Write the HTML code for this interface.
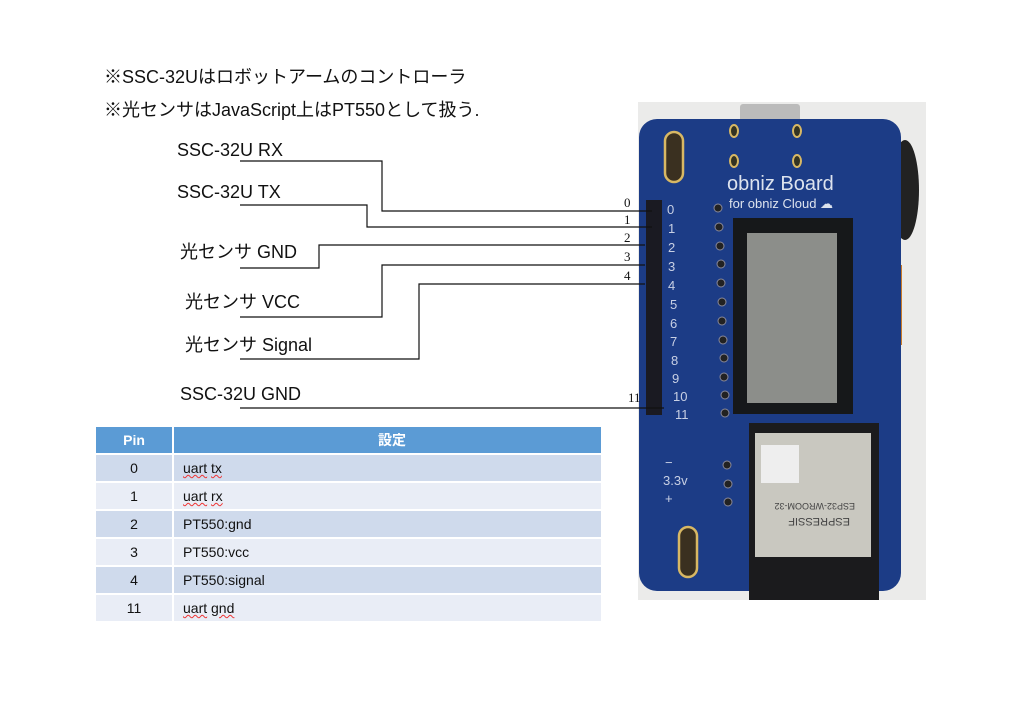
<!DOCTYPE html>
<html><head><meta charset="utf-8"><style>
body{margin:0;background:#fff;width:1020px;height:704px;position:relative;overflow:hidden;font-family:"Liberation Sans","Noto Sans CJK JP",sans-serif;color:#111}
.t{position:absolute;white-space:nowrap;font-size:18px;line-height:20px}
.n{position:absolute;font-size:13px;line-height:14px;font-family:"Liberation Serif",serif}
table{position:absolute;left:96px;top:427px;width:505px;border-collapse:collapse;font-size:14px}
td{height:26px;padding:0;border-top:2px solid #fff}
td:first-child{width:76px;text-align:center;border-right:2px solid #fff}
td+td{padding-left:9px}
tr.h td{background:#5b9bd5;color:#fff;font-weight:bold;text-align:center;height:26px;border-top:0}
tr.a td{background:#cfdaec}
tr.b td{background:#e9edf6}
.w{text-decoration:underline wavy #e33;text-decoration-thickness:1px}
</style></head><body>
<div class="t" style="left:104px;top:67px">※SSC-32Uはロボットアームのコントローラ</div>
<div class="t" style="left:104px;top:100px">※光センサはJavaScript上はPT550として扱う.</div>

<svg style="position:absolute;left:0;top:0" width="1020" height="704">
<rect x="638" y="102" width="288" height="498" fill="#ebebea"/>
<rect x="740" y="104" width="60" height="18" rx="3" fill="#bbb"/>
<ellipse cx="905" cy="190" rx="14" ry="50" fill="#222"/>
<rect x="878" y="265" width="24" height="80" fill="#c97b2a"/>
<rect x="639" y="119" width="262" height="472" rx="18" fill="#1c3c86"/>
<rect x="646" y="200" width="16" height="215" fill="#1a1a22"/>
<rect x="665" y="132" width="18" height="50" rx="9" fill="#3a3020" stroke="#d8b864" stroke-width="2.5"/>
<rect x="679" y="527" width="18" height="50" rx="9" fill="#3a3020" stroke="#d8b864" stroke-width="2.5"/>
<ellipse cx="734" cy="131" rx="4" ry="6" fill="#332" stroke="#d8b864" stroke-width="2"/>
<ellipse cx="797" cy="131" rx="4" ry="6" fill="#332" stroke="#d8b864" stroke-width="2"/>
<ellipse cx="734" cy="161" rx="4" ry="6" fill="#332" stroke="#d8b864" stroke-width="2"/>
<ellipse cx="797" cy="161" rx="4" ry="6" fill="#332" stroke="#d8b864" stroke-width="2"/>
<text x="727" y="190" font-family="Liberation Sans" font-size="20" fill="#dde3ee">obniz Board</text>
<text x="729" y="208" font-family="Liberation Sans" font-size="13" fill="#dde3ee">for obniz Cloud ☁</text>
<g font-family="Liberation Sans" font-size="13" fill="#c8d0e4">
<text x="667" y="214">0</text><text x="668" y="233">1</text><text x="668" y="252">2</text><text x="668" y="271">3</text><text x="668" y="290">4</text><text x="670" y="309">5</text><text x="670" y="328">6</text><text x="670" y="346">7</text><text x="671" y="365">8</text><text x="672" y="383">9</text><text x="673" y="401">10</text><text x="675" y="419">11</text>
<text x="665" y="467">−</text><text x="663" y="485">3.3v</text><text x="665" y="503">+</text></g>
<g fill="#222" stroke="#889" stroke-width="1">
<circle cx="718" cy="208" r="4"/><circle cx="719" cy="227" r="4"/><circle cx="720" cy="246" r="4"/><circle cx="721" cy="264" r="4"/><circle cx="721" cy="283" r="4"/><circle cx="722" cy="302" r="4"/><circle cx="722" cy="321" r="4"/><circle cx="723" cy="340" r="4"/><circle cx="724" cy="358" r="4"/><circle cx="724" cy="377" r="4"/><circle cx="725" cy="395" r="4"/><circle cx="725" cy="413" r="4"/><circle cx="727" cy="465" r="4"/><circle cx="728" cy="484" r="4"/><circle cx="728" cy="502" r="4"/></g>
<rect x="733" y="218" width="120" height="196" fill="#16181a"/>
<rect x="747" y="233" width="90" height="170" fill="#8c8e8a"/>
<rect x="749" y="423" width="130" height="177" fill="#1b1b1d"/>
<rect x="755" y="433" width="116" height="124" fill="#c9c8c0"/>
<rect x="761" y="445" width="38" height="38" fill="#eee"/>
<text x="0" y="0" transform="translate(850 518) rotate(180)" font-family="Liberation Sans" font-size="11" fill="#444">ESPRESSIF</text>
<text x="0" y="0" transform="translate(855 503) rotate(180)" font-family="Liberation Sans" font-size="9" fill="#444">ESP32-WROOM-32</text>
<g stroke="#111" stroke-width="1.2" fill="none">
<polyline points="240,161 382,161 382,211 652,211"/>
<polyline points="240,205 367,205 367,227 652,227"/>
<polyline points="240,268 319,268 319,245 645,245"/>
<polyline points="240,317 382,317 382,265 645,265"/>
<polyline points="240,359 419,359 419,284 645,284"/>
<line x1="240" y1="408" x2="664" y2="408"/>
</g>
</svg>
<div class="n" style="left:624px;top:196px">0</div>
<div class="n" style="left:624px;top:213px">1</div>
<div class="n" style="left:624px;top:231px">2</div>
<div class="n" style="left:624px;top:250px">3</div>
<div class="n" style="left:624px;top:269px">4</div>
<div class="n" style="left:628px;top:391px">11</div>

<div class="t" style="left:177px;top:140px">SSC-32U RX</div>
<div class="t" style="left:177px;top:182px">SSC-32U TX</div>
<div class="t" style="left:180px;top:242px">光センサ GND</div>
<div class="t" style="left:185px;top:292px">光センサ VCC</div>
<div class="t" style="left:185px;top:335px">光センサ Signal</div>
<div class="t" style="left:180px;top:384px">SSC-32U GND</div>

<table>
<tr class="h"><td>Pin</td><td>設定</td></tr>
<tr class="a"><td>0</td><td><span class="w">uart</span> <span class="w">tx</span></td></tr>
<tr class="b"><td>1</td><td><span class="w">uart</span> <span class="w">rx</span></td></tr>
<tr class="a"><td>2</td><td>PT550:gnd</td></tr>
<tr class="b"><td>3</td><td>PT550:vcc</td></tr>
<tr class="a"><td>4</td><td>PT550:signal</td></tr>
<tr class="b"><td>11</td><td><span class="w">uart</span> <span class="w">gnd</span></td></tr>
</table>
</body></html>
